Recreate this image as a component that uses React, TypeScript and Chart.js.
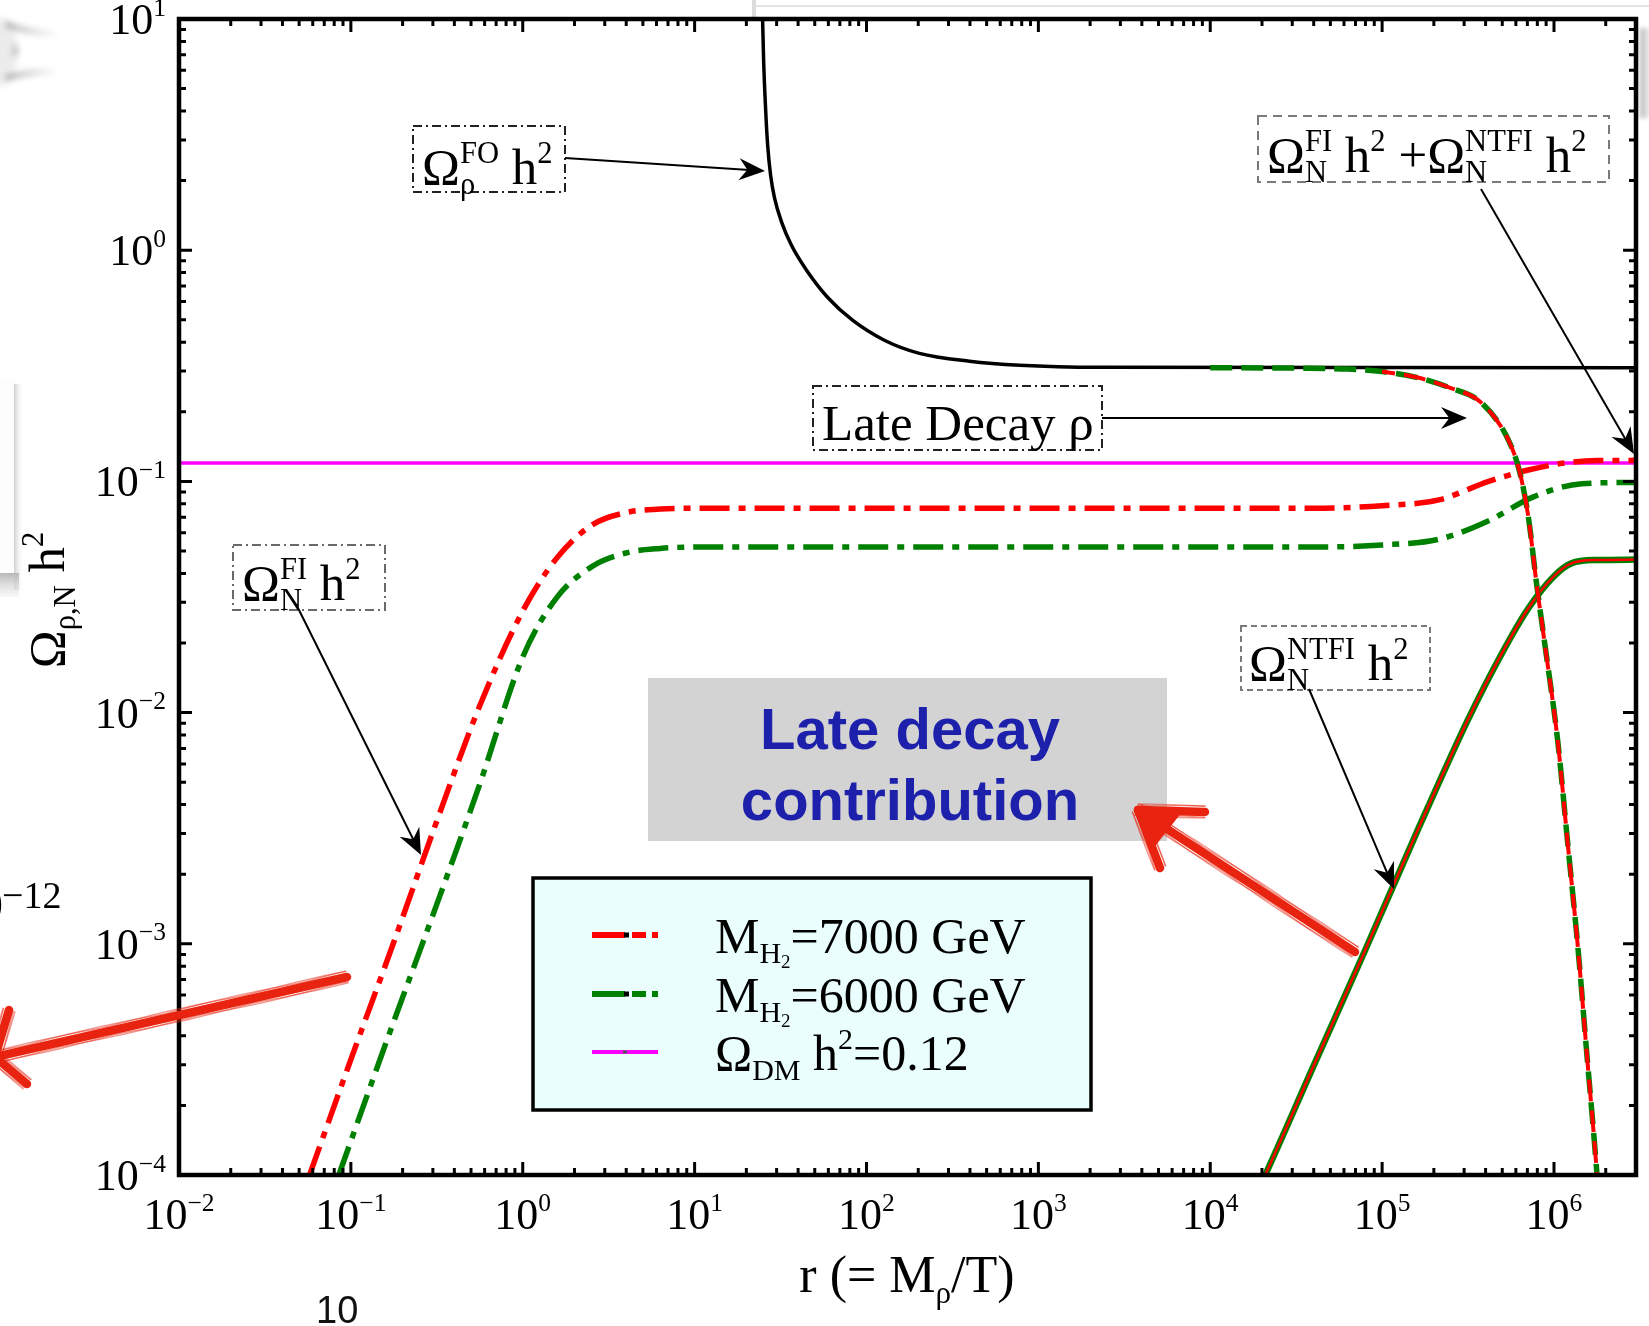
import React, { useEffect, useRef } from 'react';
import { Chart, registerables } from 'chart.js';

Chart.register(...registerables);

const W = 1649;
const H = 1326;

// r = M_rho / T
const foR = [24.4, 24.85, 25.2, 25.9, 26.6, 27.67, 29.18, 32.1, 36.6, 44.8, 59.3, 82.9, 127, 203, 397, 776, 2265, 3e6];
const foOmega = [13, 10, 6.65, 4.04, 2.85, 2.112, 1.68, 1.32, 1.05, 0.819, 0.626, 0.498, 0.408, 0.358, 0.331, 0.318, 0.3115, 0.31];

const fiRedR = [0.0575, 0.1, 0.178, 0.316, 0.562, 1, 1.585, 2.51, 3.98, 6.31, 10, 39811, 1e5, 2.14e5, 4.17e5, 7.08e5, 1.12e6, 1.78e6, 3e6];
const fiRedOmega = [1e-4, 3.16e-4, 1.02e-3, 3.39e-3, 0.0107, 0.0275, 0.0468, 0.0646, 0.0733, 0.0759, 0.0766, 0.0766, 0.0785, 0.0832, 0.1, 0.112, 0.1197, 0.123, 0.1233];

const fiGreenR = [0.0851, 0.158, 0.316, 0.562, 1, 1.585, 2.51, 3.98, 6.31, 10, 39811, 1e5, 2.14e5, 4.17e5, 7.41e5, 1.45e6, 3e6];
const fiGreenOmega = [1e-4, 3.63e-4, 1.48e-3, 4.9e-3, 0.0174, 0.0316, 0.0427, 0.049, 0.0513, 0.052, 0.052, 0.0531, 0.0562, 0.0676, 0.0851, 0.0977, 0.099];

const decayR = [1e4, 31623, 63096, 1e5, 1.585e5, 2.45e5, 3.8e5, 5.5e5, 6.31e5, 7.08e5, 7.94e5, 8.91e5, 1.05e6, 1.2e6, 1.38e6, 1.55e6, 1.78e6, 1.9e6];
const decayOmega = [0.31, 0.309, 0.306, 0.2985, 0.282, 0.255, 0.218, 0.148, 0.11, 0.0708, 0.0355, 0.019, 7.6e-3, 2.75e-3, 9.5e-4, 3.39e-4, 1e-4, 5e-5];
const decayRedStart = 9.2e4;

const ntfiR = [19000, 20893, 39811, 79433, 1.585e5, 3.16e5, 5.01e5, 7.08e5, 1e6, 1.26e6, 1.78e6, 3e6];
const ntfiOmega = [8.6e-5, 1e-4, 2.95e-4, 9.33e-4, 3.02e-3, 9.33e-3, 0.0182, 0.0282, 0.0389, 0.0442, 0.0457, 0.0459];

const dmR = [0.01, 3e6];
const dmOmega = [0.12, 0.12];

const xDecades = [-2, -1, 0, 1, 2, 3, 4, 5, 6];
const yDecades = [-4, -3, -2, -1, 0, 1];

const legendLabels = ['7000', '6000'];

const RED = '#ff0000';
const GREEN = '#008000';
const MAGENTA = '#ff00ff';
const PEN = '#e8230f';
const SERIF = "'Liberation Serif', 'Times New Roman', serif";
const SANS = "'Liberation Sans', Arial, Helvetica, sans-serif";

type Sub = { t: string; k?: number; dy?: number };
type Run = Sub & { under?: Sub };

const pts = (xs: number[], ys: number[]) => xs.map((x, i) => ({ x, y: ys[i] }));

function runWidth(ctx: CanvasRenderingContext2D, F: number, r: Run, fam: string) {
  ctx.font = `${F * (r.k ?? 1)}px ${fam}`;
  let w = ctx.measureText(r.t).width;
  if (r.under) {
    ctx.font = `${F * (r.under.k ?? 1)}px ${fam}`;
    w = Math.max(w, ctx.measureText(r.under.t).width);
  }
  return w;
}

function textWidth(ctx: CanvasRenderingContext2D, F: number, runs: Run[], fam = SERIF) {
  return runs.reduce((a, r) => a + runWidth(ctx, F, r, fam), 0);
}

function drawRuns(ctx: CanvasRenderingContext2D, x: number, y: number, F: number, runs: Run[], fam = SERIF, color = '#000') {
  ctx.fillStyle = color;
  ctx.textAlign = 'left';
  ctx.textBaseline = 'alphabetic';
  let cx = x;
  for (const r of runs) {
    const w = runWidth(ctx, F, r, fam);
    ctx.font = `${F * (r.k ?? 1)}px ${fam}`;
    ctx.fillText(r.t, cx, y + F * (r.dy ?? 0));
    if (r.under) {
      ctx.font = `${F * (r.under.k ?? 1)}px ${fam}`;
      ctx.fillText(r.under.t, cx, y + F * (r.under.dy ?? 0));
    }
    cx += w;
  }
}

function arrow(ctx: CanvasRenderingContext2D, x1: number, y1: number, x2: number, y2: number) {
  const a = Math.atan2(y2 - y1, x2 - x1);
  const L = 26;
  const hw = 11;
  const c = Math.cos(a);
  const s = Math.sin(a);
  ctx.strokeStyle = '#000';
  ctx.fillStyle = '#000';
  ctx.lineWidth = 2;
  ctx.setLineDash([]);
  ctx.beginPath();
  ctx.moveTo(x1, y1);
  ctx.lineTo(x2 - c * L * 0.6, y2 - s * L * 0.6);
  ctx.stroke();
  const bx = x2 - c * L;
  const by = y2 - s * L;
  ctx.beginPath();
  ctx.moveTo(x2, y2);
  ctx.lineTo(bx - s * hw, by + c * hw);
  ctx.lineTo(x2 - c * L * 0.68, y2 - s * L * 0.68);
  ctx.lineTo(bx + s * hw, by - c * hw);
  ctx.closePath();
  ctx.fill();
}

function dashedBox(ctx: CanvasRenderingContext2D, x: number, y: number, w: number, h: number, color: string, dash: number[]) {
  ctx.save();
  ctx.strokeStyle = color;
  ctx.lineWidth = 2;
  ctx.setLineDash(dash);
  ctx.strokeRect(x, y, w, h);
  ctx.restore();
}

// felt-pen stroke: a solid core with slightly ragged edges
function scribble(ctx: CanvasRenderingContext2D, lines: number[][], width: number) {
  ctx.save();
  ctx.strokeStyle = PEN;
  ctx.lineCap = 'round';
  ctx.lineJoin = 'round';
  for (const [x1, y1, x2, y2] of lines) {
    const a = Math.atan2(y2 - y1, x2 - x1);
    const nx = -Math.sin(a);
    const ny = Math.cos(a);
    const len = Math.hypot(x2 - x1, y2 - y1);
    ctx.globalAlpha = 1;
    ctx.lineWidth = width * 0.85;
    ctx.beginPath();
    ctx.moveTo(x1, y1);
    ctx.lineTo(x2, y2);
    ctx.stroke();
    ctx.lineWidth = 1.3;
    for (const side of [-1, 1]) {
      for (let k = 0; k < 2; k++) {
        ctx.globalAlpha = 0.5;
        ctx.beginPath();
        const n = Math.max(4, Math.round(len / 11));
        for (let i = 0; i <= n; i++) {
          const t = i / n;
          const o = side * (width * 0.45 + Math.abs(Math.sin(i * 2.9 + k * 1.3 + side)) * 1.8);
          const px = x1 + (x2 - x1) * t + nx * o;
          const py = y1 + (y2 - y1) * t + ny * o;
          if (i === 0) ctx.moveTo(px, py);
          else ctx.lineTo(px, py);
        }
        ctx.stroke();
      }
    }
  }
  ctx.restore();
}

const expLabel = (d: number) => (d < 0 ? '\u2212' + String(-d) : String(d));

const decor = {
  id: 'decor',
  beforeDraw(chart: any) {
    const ctx: CanvasRenderingContext2D = chart.ctx;
    ctx.save();
    // slide fragments around the figure
    ctx.strokeStyle = '#e4e4e4';
    ctx.lineWidth = 2;
    ctx.beginPath();
    ctx.moveTo(756, 6);
    ctx.lineTo(W, 6);
    ctx.stroke();
    ctx.strokeStyle = '#dcdcdc';
    ctx.lineWidth = 4;
    ctx.beginPath();
    ctx.moveTo(754, 0);
    ctx.lineTo(754, 17);
    ctx.stroke();

    const g = ctx.createLinearGradient(1638, 0, W, 0);
    g.addColorStop(0, '#a8a8a8');
    g.addColorStop(1, '#eeeeee');
    ctx.fillStyle = g;
    ctx.filter = 'blur(2px)';
    ctx.fillRect(1640, 28, 12, 90);
    ctx.filter = 'none';

    // left panel edge
    ctx.fillStyle = '#fdfdfd';
    ctx.fillRect(0, 378, 15, 195);
    const gr = ctx.createLinearGradient(14, 0, 24, 0);
    gr.addColorStop(0, '#d0d0d0');
    gr.addColorStop(1, 'rgba(255,255,255,0)');
    ctx.fillStyle = gr;
    ctx.fillRect(14, 384, 10, 206);
    const gb = ctx.createLinearGradient(0, 573, 0, 597);
    gb.addColorStop(0, '#b8b8b8');
    gb.addColorStop(1, 'rgba(235,235,235,0.4)');
    ctx.fillStyle = gb;
    ctx.fillRect(0, 573, 19, 24);

    // blurred icon in the corner
    ctx.filter = 'blur(3px)';
    ctx.fillStyle = '#ececec';
    ctx.beginPath();
    ctx.ellipse(2, 52, 15, 34, 0, 0, Math.PI * 2);
    ctx.fill();
    for (const [ya, yb] of [[24, 34], [78, 71]]) {
      const sg = ctx.createLinearGradient(6, 0, 58, 0);
      sg.addColorStop(0, 'rgba(90,90,90,0.55)');
      sg.addColorStop(1, 'rgba(90,90,90,0)');
      ctx.strokeStyle = sg;
      ctx.lineWidth = 5;
      ctx.beginPath();
      ctx.moveTo(6, ya);
      ctx.quadraticCurveTo(24, (ya + yb) / 2 + (yb - ya) * 0.3, 58, yb);
      ctx.stroke();
    }
    ctx.fillStyle = 'rgba(110,110,110,0.45)';
    ctx.beginPath();
    ctx.moveTo(13, 42);
    ctx.lineTo(19, 51);
    ctx.lineTo(13, 59);
    ctx.closePath();
    ctx.fill();
    ctx.filter = 'none';
    ctx.restore();
  },
  afterDatasetsDraw(chart: any) {
    const ctx: CanvasRenderingContext2D = chart.ctx;
    const { left, right, top, bottom } = chart.chartArea;
    const xs = chart.scales.x;
    const ys = chart.scales.y;
    ctx.save();
    ctx.setLineDash([]);

    // ticks on all four sides, pointing inward
    ctx.strokeStyle = '#000';
    ctx.lineWidth = 3;
    const major = 13;
    const minor = 7;
    ctx.beginPath();
    for (const d of xDecades) {
      for (let m = 1; m <= 9; m++) {
        const v = m * Math.pow(10, d);
        if (v <= 0.01 || v >= 3e6) continue;
        const px = xs.getPixelForValue(v);
        const len = m === 1 ? major : minor;
        ctx.moveTo(px, bottom);
        ctx.lineTo(px, bottom - len);
        ctx.moveTo(px, top);
        ctx.lineTo(px, top + len);
      }
    }
    for (const d of yDecades) {
      for (let m = 1; m <= 9; m++) {
        const v = m * Math.pow(10, d);
        if (v <= 1e-4 || v >= 10) continue;
        const py = ys.getPixelForValue(v);
        const len = m === 1 ? major : minor;
        ctx.moveTo(left, py);
        ctx.lineTo(left + len, py);
        ctx.moveTo(right, py);
        ctx.lineTo(right - len, py);
      }
    }
    ctx.stroke();

    ctx.lineWidth = 4.5;
    ctx.strokeRect(left, top, right - left, bottom - top);

    // tick labels
    const TF = 44;
    for (const d of xDecades) {
      const runs: Run[] = [{ t: '10' }, { t: expLabel(d), k: 0.58, dy: -0.42 }];
      const w = textWidth(ctx, TF, runs);
      drawRuns(ctx, xs.getPixelForValue(Math.pow(10, d)) - w / 2, 1229, TF, runs);
    }
    for (const d of yDecades) {
      const runs: Run[] = [{ t: '10' }, { t: expLabel(d), k: 0.58, dy: -0.42 }];
      const w = textWidth(ctx, TF, runs);
      drawRuns(ctx, 166 - w, ys.getPixelForValue(Math.pow(10, d)) + 15, TF, runs);
    }

    // axis titles
    const xt: Run[] = [{ t: 'r (= M' }, { t: '\u03c1', k: 0.6, dy: 0.22 }, { t: '/T)' }];
    drawRuns(ctx, 907 - textWidth(ctx, 52, xt) / 2, 1292, 52, xt);
    const yt: Run[] = [{ t: '\u03a9' }, { t: '\u03c1,N', k: 0.6, dy: 0.22 }, { t: ' h' }, { t: '2', k: 0.6, dy: -0.42 }];
    ctx.save();
    ctx.translate(64, 600);
    ctx.rotate(-Math.PI / 2);
    drawRuns(ctx, -textWidth(ctx, 51, yt) / 2, 0, 51, yt);
    ctx.restore();

    // annotation boxes and arrows
    const AF = 51;
    const dashDot = [9, 4, 2, 4];
    dashedBox(ctx, 413, 126, 152, 66, '#222', dashDot);
    drawRuns(ctx, 422, 184, AF, [
      { t: '\u03a9' },
      { t: 'FO', k: 0.6, dy: -0.42, under: { t: '\u03c1', k: 0.6, dy: 0.2 } },
      { t: ' h' },
      { t: '2', k: 0.6, dy: -0.42 },
    ]);
    arrow(ctx, 565, 158, 765, 171);

    dashedBox(ctx, 1258, 116, 351, 66, '#7a7a7a', [9, 6]);
    drawRuns(ctx, 1267, 172, AF, [
      { t: '\u03a9' },
      { t: 'FI', k: 0.6, dy: -0.42, under: { t: 'N', k: 0.6, dy: 0.2 } },
      { t: ' h' },
      { t: '2', k: 0.6, dy: -0.42 },
      { t: ' +\u03a9' },
      { t: 'NTFI', k: 0.6, dy: -0.42, under: { t: 'N', k: 0.6, dy: 0.2 } },
      { t: ' h' },
      { t: '2', k: 0.6, dy: -0.42 },
    ]);
    arrow(ctx, 1481, 189, 1634, 454);

    dashedBox(ctx, 813, 386, 289, 64, '#222', dashDot);
    drawRuns(ctx, 822, 440, AF, [{ t: 'Late Decay \u03c1' }]);
    arrow(ctx, 1102, 418, 1467, 418);

    dashedBox(ctx, 233, 545, 152, 65, '#6a6a6a', dashDot);
    drawRuns(ctx, 242, 600, AF, [
      { t: '\u03a9' },
      { t: 'FI', k: 0.6, dy: -0.42, under: { t: 'N', k: 0.6, dy: 0.2 } },
      { t: ' h' },
      { t: '2', k: 0.6, dy: -0.42 },
    ]);
    arrow(ctx, 298, 608, 421, 855);

    dashedBox(ctx, 1241, 626, 189, 64, '#7a7a7a', [6, 4]);
    drawRuns(ctx, 1249, 680, AF, [
      { t: '\u03a9' },
      { t: 'NTFI', k: 0.6, dy: -0.42, under: { t: 'N', k: 0.6, dy: 0.2 } },
      { t: ' h' },
      { t: '2', k: 0.6, dy: -0.42 },
    ]);
    arrow(ctx, 1309, 689, 1394, 889);

    // legend
    ctx.fillStyle = '#eafefe';
    ctx.fillRect(533, 878, 558, 232);
    ctx.strokeStyle = '#000';
    ctx.lineWidth = 3.5;
    ctx.strokeRect(533, 878, 558, 232);
    const LF = 50;
    const rows = [935, 994, 1052];
    [RED, GREEN].forEach((col, i) => {
      const y = rows[i];
      ctx.strokeStyle = col;
      ctx.lineWidth = 6;
      ctx.lineCap = 'butt';
      ctx.beginPath();
      ctx.moveTo(592, y);
      ctx.lineTo(625, y);
      ctx.moveTo(632, y);
      ctx.lineTo(646, y);
      ctx.moveTo(652, y);
      ctx.lineTo(658, y);
      ctx.stroke();
      ctx.fillStyle = '#000';
      ctx.fillRect(624, y - 2.5, 5, 5);
      drawRuns(ctx, 715, y + 18, LF, [
        { t: 'M' },
        { t: 'H', k: 0.6, dy: 0.2 },
        { t: '2', k: 0.38, dy: 0.3 },
        { t: '=' + legendLabels[i] + ' GeV' },
      ]);
    });
    ctx.strokeStyle = MAGENTA;
    ctx.lineWidth = 4;
    ctx.beginPath();
    ctx.moveTo(592, rows[2]);
    ctx.lineTo(658, rows[2]);
    ctx.stroke();
    ctx.fillStyle = '#555';
    ctx.fillRect(623, rows[2] - 1.5, 4, 3);
    drawRuns(ctx, 715, rows[2] + 18, LF, [
      { t: '\u03a9' },
      { t: 'DM', k: 0.6, dy: 0.2 },
      { t: ' h' },
      { t: '2', k: 0.6, dy: -0.42 },
      { t: '=0.12' },
    ]);

    // slide call-out
    ctx.fillStyle = '#d3d3d3';
    ctx.fillRect(648, 678, 519, 163);
    ctx.fillStyle = '#1c20aa';
    ctx.textAlign = 'center';
    ctx.font = `bold 58px ${SANS}`;
    ctx.fillText('Late decay', 910, 749);
    ctx.fillText('contribution', 910, 820);

    // stray slide text
    ctx.textAlign = 'left';
    ctx.fillStyle = '#000';
    ctx.font = `48px ${SERIF}`;
    const w10 = ctx.measureText('10').width;
    ctx.fillText('10', 3 - w10, 921);
    ctx.font = `38px ${SERIF}`;
    ctx.fillText('\u221212', 2, 908);
    ctx.font = `38px ${SANS}`;
    ctx.fillStyle = '#111';
    ctx.fillText('10', 316, 1323);

    // hand-drawn red arrows
    scribble(ctx, [[1355, 952, 1138, 810], [1138, 810, 1205, 812], [1138, 810, 1160, 868]], 10);
    ctx.fillStyle = PEN;
    ctx.beginPath();
    ctx.moveTo(1136, 806);
    ctx.lineTo(1182, 812);
    ctx.lineTo(1152, 850);
    ctx.closePath();
    ctx.fill();
    scribble(ctx, [[347, 977, -5, 1057], [-5, 1057, 9, 1010], [-5, 1057, 27, 1084]], 10);

    ctx.restore();
  },
};

export default function App() {
  const ref = useRef<HTMLCanvasElement | null>(null);
  useEffect(() => {
    if (!ref.current) return;
    const chart = new Chart(ref.current, {
      type: 'line',
      data: {
        datasets: [
          { data: pts(decayR.filter((r) => r >= decayRedStart), decayOmega.filter((_, i) => decayR[i] >= decayRedStart)), borderColor: RED, borderWidth: 4, borderDash: [22, 9], borderDashOffset: 9 },
          { data: pts(decayR, decayOmega), borderColor: GREEN, borderWidth: 5.5, borderDash: [22, 9] },
          { data: pts(ntfiR, ntfiOmega), borderColor: RED, borderWidth: 2.5 },
          { data: pts(ntfiR, ntfiOmega), borderColor: GREEN, borderWidth: 6.5 },
          { data: pts(fiRedR, fiRedOmega), borderColor: RED, borderWidth: 5.5, borderDash: [30, 9, 7, 9] },
          { data: pts(fiGreenR, fiGreenOmega), borderColor: GREEN, borderWidth: 5.5, borderDash: [30, 9, 7, 9] },
          { data: pts(foR, foOmega), borderColor: '#000', borderWidth: 3.5 },
          { data: pts(dmR, dmOmega), borderColor: MAGENTA, borderWidth: 3.5 },
        ] as any,
      },
      options: {
        responsive: false,
        animation: false,
        devicePixelRatio: 1,
        layout: { padding: { top: 19, right: 13, left: 0, bottom: 0 } },
        plugins: { legend: { display: false }, tooltip: { enabled: false } },
        elements: {
          point: { radius: 0 },
          line: { cubicInterpolationMode: 'monotone', fill: false, borderCapStyle: 'butt' },
        },
        scales: {
          x: {
            type: 'logarithmic',
            min: 0.01,
            max: 3e6,
            ticks: { display: false },
            grid: { display: false },
            border: { display: false },
            afterFit: (s: any) => {
              s.height = 151;
            },
          },
          y: {
            type: 'logarithmic',
            min: 1e-4,
            max: 10,
            ticks: { display: false },
            grid: { display: false },
            border: { display: false },
            afterFit: (s: any) => {
              s.width = 179;
            },
          },
        },
      } as any,
      plugins: [decor],
    });
    return () => chart.destroy();
  }, []);
  return (
    <div style={{ position: 'absolute', left: 0, top: 0, width: W, height: H, background: '#fff' }}>
      <canvas ref={ref} width={W} height={H} style={{ width: W, height: H, display: 'block' }} />
    </div>
  );
}
